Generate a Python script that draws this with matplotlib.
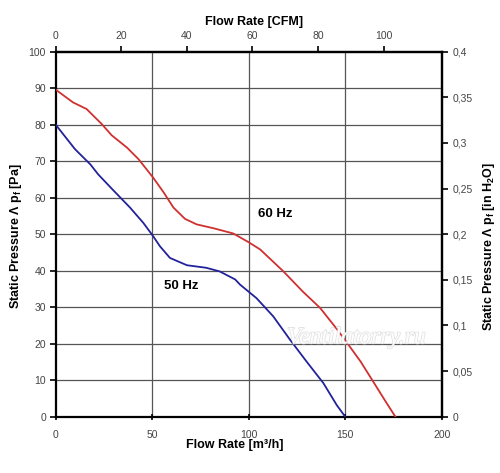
import matplotlib
matplotlib.use("Agg")
import matplotlib.pyplot as plt
from matplotlib.ticker import FuncFormatter, MultipleLocator
import matplotlib.patheffects as pe

# ---- data ----
flow_60 = [0, 9, 16, 24, 29, 37, 43, 50.5, 56, 61, 67, 73, 82, 92, 100, 106,
           118, 128, 137, 146, 151, 158, 165, 171.5, 176]
pres_60 = [89.6, 86.1, 84.3, 80.1, 77.1, 73.7, 70.5, 65.5, 61.4, 57.3, 54.2,
           52.7, 51.6, 50.2, 47.8, 45.8, 39.8, 34.3, 29.8, 23.8, 20.2, 15.1,
           9.2, 3.7, 0]
flow_50 = [0, 10, 18, 22, 29, 38.5, 45.4, 50.3, 54, 59.2, 68, 78, 85, 93,
           95.5, 104, 112.7, 121.4, 130, 138.7, 145.6, 150]
pres_50 = [80, 73.3, 69.1, 66.4, 62.5, 57.3, 53.1, 49.6, 46.7, 43.5, 41.5,
           40.8, 39.8, 37.6, 36.2, 32.5, 27.5, 21.1, 15.1, 9.2, 3.2, 0]
x_ticks = [0, 50, 100, 150, 200]
y_ticks = [0, 10, 20, 30, 40, 50, 60, 70, 80, 90, 100]
cfm_ticks = [0, 20, 40, 60, 80, 100]
inh2o_ticks = [0, 0.05, 0.1, 0.15, 0.2, 0.25, 0.3, 0.35, 0.4]
M3H_PER_CFM = 1.699
INH2O_PER_PA = 0.004

plt.rcParams['font.family'] = ['Liberation Sans', 'DejaVu Sans']
plt.rcParams['mathtext.fontset'] = 'custom'
plt.rcParams['mathtext.rm'] = 'Liberation Sans:bold'
plt.rcParams['mathtext.it'] = 'Liberation Sans:bold'
plt.rcParams['mathtext.bf'] = 'Liberation Sans:bold'

fig = plt.figure(figsize=(5.0, 4.73), dpi=100)
ax = fig.add_axes([0.1114, 0.119, 0.772, 0.7717])

ax.plot(flow_60, pres_60, color='#d03030', lw=1.3, zorder=3)
ax.plot(flow_50, pres_50, color='#22229a', lw=1.3, zorder=3)

ax.set_xlim(0, 200)
ax.set_ylim(0, 100)
ax.set_xticks(x_ticks)
ax.set_yticks(y_ticks)
for v in [50, 100, 150]:
    ax.axvline(v, color='#555555', lw=0.9, zorder=1)
for v in y_ticks[1:-1]:
    ax.axhline(v, color='#555555', lw=0.9, zorder=1)

for s in ax.spines.values():
    s.set_linewidth(1.6)
    s.set_color('black')

tick_col = '#444444'
ax.tick_params(axis='x', direction='inout', length=5, width=1.2, labelsize=7.5,
               labelcolor=tick_col, pad=7)
ax.tick_params(axis='y', direction='out', length=4, width=1.2, labelsize=7.5,
               labelcolor=tick_col, pad=3)

top = ax.secondary_xaxis('top', functions=(lambda x: x / M3H_PER_CFM,
                                           lambda x: x * M3H_PER_CFM))
top.set_xticks(cfm_ticks)
top.tick_params(direction='out', length=4, width=1.2, labelsize=7.5,
                labelcolor=tick_col, pad=4)
top.spines['top'].set_linewidth(1.6)

right = ax.secondary_yaxis('right', functions=(lambda y: y * INH2O_PER_PA,
                                               lambda y: y / INH2O_PER_PA))
right.set_yticks(inh2o_ticks)
right.yaxis.set_major_formatter(
    FuncFormatter(lambda v, p: f"{round(v, 2):g}".replace('.', ',')))
right.tick_params(direction='out', length=4, width=1.2, labelsize=7.5,
                  labelcolor=tick_col, pad=4)
right.spines['right'].set_linewidth(1.6)

fig.text(0.47, 1 - 445 / 473, 'Flow Rate [m³/h]', ha='center', va='center',
         fontsize=9, fontweight='bold')
fig.text(0.508, 1 - 21.7 / 473, 'Flow Rate [CFM]', ha='center', va='center',
         fontsize=9, fontweight='bold')
fig.text(16 / 500, 1 - 236 / 473, r'Static Pressure Λ p$_\mathrm{f}$ [Pa]',
         rotation=90, ha='center', va='center', fontsize=9, fontweight='bold')
fig.text(489 / 500, 1 - 246 / 473,
         r'Static Pressure Λ p$_\mathrm{f}$ [in H$_\mathrm{2}$O]',
         rotation=90, ha='center', va='center', fontsize=9, fontweight='bold')

ax.text(114, 55.6, '60 Hz', ha='center', va='center', fontsize=9.5,
        fontweight='bold')
ax.text(65.2, 35.9, '50 Hz', ha='center', va='center', fontsize=9.5,
        fontweight='bold')

wm = ax.text(156, 21.6, 'Ventilatorry.ru', ha='center', va='center',
             fontsize=17, style='italic', family='Liberation Serif',
             color='white', alpha=0.75, zorder=5)
wm.set_path_effects([pe.withStroke(linewidth=1.2, foreground='#d8d8d8'),
                     pe.Normal()])

fig.savefig('out.png', dpi=100)
